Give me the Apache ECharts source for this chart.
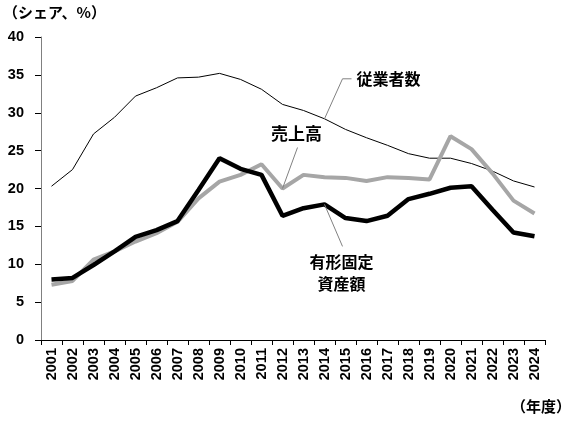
<!DOCTYPE html>
<html><head><meta charset="utf-8">
<script src="https://cdn.jsdelivr.net/npm/echarts@6/dist/echarts.min.js"></script>
<style>html,body{margin:0;padding:0;background:#fff}#c{width:573px;height:423px}</style>
</head><body><div id="c"></div>
<script>
var years = ['2001','2002','2003','2004','2005','2006','2007','2008','2009','2010','2011','2012','2013','2014','2015','2016','2017','2018','2019','2020','2021','2022','2023','2024'];
var employees = [20.3,22.5,27.2,29.4,32.2,33.3,34.6,34.7,35.2,34.4,33.1,31.1,30.3,29.2,27.8,26.7,25.7,24.6,24.0,24.0,23.3,22.3,21.0,20.2];
var sales = [7.3,7.8,10.6,11.7,13.0,14.1,15.6,18.7,20.9,21.8,23.2,20.0,21.8,21.5,21.4,21.0,21.5,21.4,21.2,26.9,25.2,22.0,18.4,16.7];
var assets = [8.0,8.2,9.9,11.7,13.6,14.5,15.7,19.8,24.0,22.6,21.8,16.4,17.4,17.9,16.1,15.7,16.4,18.6,19.3,20.1,20.3,17.2,14.2,13.7];
var yTicks = [0,5,10,15,20,25,30,35,40];

var font = "'Liberation Sans', Arial, 'Noto Sans CJK JP', sans-serif";
var chart = echarts.init(document.getElementById('c'));
chart.setOption({
  animation:false,
  grid:{left:41,top:37,right:28,bottom:83},
  xAxis:{type:'category',data:years,boundaryGap:true,
    axisLine:{lineStyle:{color:'#000',width:1}},
    axisTick:{show:true,length:5,lineStyle:{color:'#000'}},
    axisLabel:{rotate:90,interval:0,margin:8,color:'#000',fontSize:14.5,fontWeight:'bold',fontFamily:font}},
  yAxis:{type:'value',min:yTicks[0],max:yTicks[yTicks.length-1],interval:5,
    splitLine:{show:false},
    axisLine:{show:true,lineStyle:{color:'#808080',width:1}},
    axisTick:{show:true,length:6,lineStyle:{color:'#000'}},
    axisLabel:{margin:17,color:'#000',fontSize:14.5,fontWeight:'bold',fontFamily:font}},
  series:[
    {name:'従業者数',type:'line',data:employees,symbol:'none',lineStyle:{color:'#000',width:1},z:2},
    {name:'売上高',type:'line',data:sales,symbol:'none',lineStyle:{color:'#a6a6a6',width:4},z:3},
    {name:'有形固定資産額',type:'line',data:assets,symbol:'none',lineStyle:{color:'#000',width:4.5},z:4}
  ]
});
var pE = chart.convertToPixel({xAxisIndex:0,yAxisIndex:0},['2014',employees[13]]);
var pS = chart.convertToPixel({xAxisIndex:0,yAxisIndex:0},['2012',sales[11]]);
var pA = chart.convertToPixel({xAxisIndex:0,yAxisIndex:0},['2014',assets[13]]);
chart.setOption({graphic:[
  {type:'text',left:3,top:5,style:{text:'（シェア、%）',fill:'#000',font:"bold 15px 'Noto Sans CJK JP', sans-serif"}},
  {type:'text',right:2,top:399,style:{text:'（年度）',fill:'#000',font:"bold 15px 'Noto Sans CJK JP', sans-serif"}},
  {type:'polyline',shape:{points:[[pE[0]+27,pE[1]-40],[pE[0]+18,pE[1]-40],[pE[0],pE[1]]]},style:{stroke:'#808080',lineWidth:1,fill:null},z:10},
  {type:'text',x:pE[0]+32,y:pE[1]-40,style:{text:'従業者数',fill:'#000',font:"bold 16px 'Noto Sans CJK JP', sans-serif",textVerticalAlign:'middle'},z:10},
  {type:'line',shape:{x1:pS[0],y1:pS[1],x2:pS[0]+15,y2:pS[1]-41},style:{stroke:'#808080',lineWidth:1},z:10},
  {type:'text',x:pS[0]+14,y:pS[1]-55,style:{text:'売上高',fill:'#000',font:"bold 17px 'Noto Sans CJK JP', sans-serif",textAlign:'center',textVerticalAlign:'middle'},z:10},
  {type:'line',shape:{x1:pA[0],y1:pA[1],x2:pA[0]+18,y2:pA[1]+42},style:{stroke:'#808080',lineWidth:1},z:10},
  {type:'text',x:pA[0]+17,y:pA[1]+69,style:{text:'有形固定\n資産額',fill:'#000',font:"bold 16px 'Noto Sans CJK JP', sans-serif",textAlign:'center',textVerticalAlign:'middle',lineHeight:22},z:10}
]});
</script></body></html>
